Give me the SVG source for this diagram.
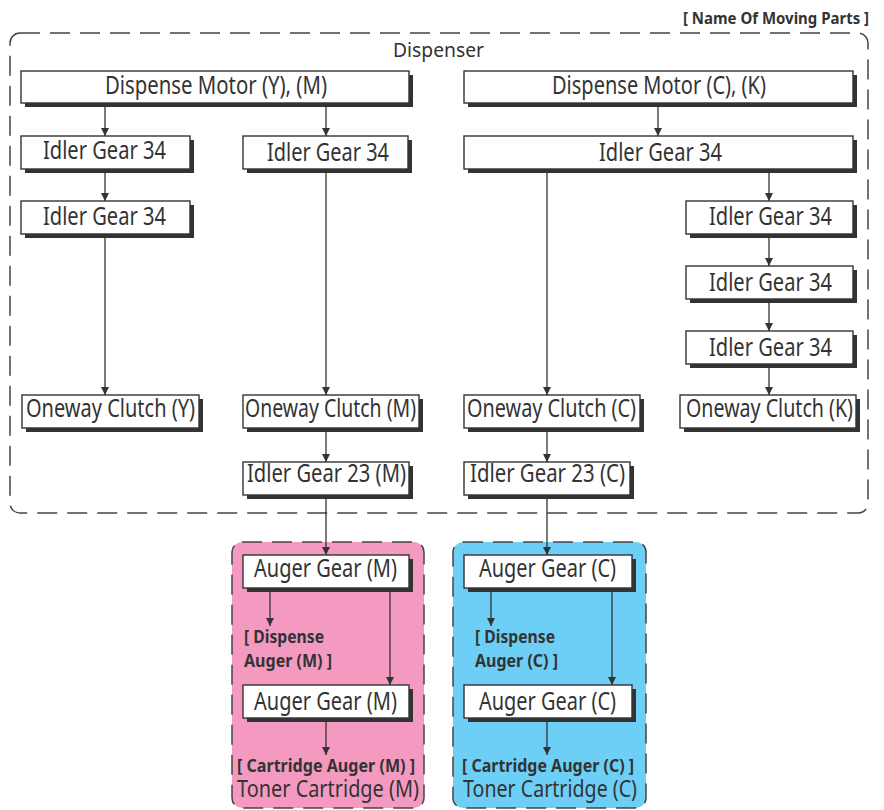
<svg xmlns="http://www.w3.org/2000/svg" width="884" height="810" viewBox="0 0 884 810">
  <defs>
    <marker id="arrow" markerUnits="userSpaceOnUse" markerWidth="8" markerHeight="10" refX="8" refY="4" orient="auto">
      <path d="M0,0 L8,4 L0,8 z" fill="#333"/>
    </marker>
    <style>
      text { font-family: "Noto Sans", "Open Sans", sans-serif; fill: #333; }
      .t { font-size: 25px; }
      .lbl { font-size: 18px; font-weight: bold; }
      .hdr { font-size: 16.5px; font-weight: bold; }
      .grp { font-size: 20.5px; }
      .toner { font-size: 23px; }
      .box { fill: #fff; stroke: #333; stroke-width: 1.4; }
      .shadow { fill: #333; }
      .frame { fill: none; stroke: #444; stroke-width: 1.5; stroke-dasharray: 20 10; }
      .link { fill: none; stroke: #333; stroke-width: 1.3; }
    </style>
  </defs>

  <rect width="884" height="810" fill="#fff"/>

  <!-- header -->
  <text class="hdr" x="683" y="24" textLength="186" lengthAdjust="spacingAndGlyphs">[ Name Of Moving Parts ]</text>

  <!-- containers -->
  <g id="dispenser">
    <rect class="frame" x="10" y="33" width="858" height="480" rx="10"/>
    <text class="grp" x="393" y="57" textLength="91" lengthAdjust="spacingAndGlyphs">Dispenser</text>
  </g>
  <g id="toner-m">
    <rect x="232" y="542" width="192" height="266" rx="10" fill="#F49AC1"/>
    <rect class="frame" x="232" y="542" width="192" height="266" rx="10"/>
    <text class="lbl" x="244" y="643" textLength="80" lengthAdjust="spacingAndGlyphs">[ Dispense</text>
    <text class="lbl" x="244" y="667" textLength="88" lengthAdjust="spacingAndGlyphs">Auger (M) ]</text>
    <text class="lbl" x="237" y="772" textLength="178" lengthAdjust="spacingAndGlyphs">[ Cartridge Auger (M) ]</text>
    <text class="toner" x="237" y="797" textLength="182" lengthAdjust="spacingAndGlyphs">Toner Cartridge (M)</text>
  </g>
  <g id="toner-c">
    <rect x="453" y="542" width="193" height="266" rx="10" fill="#6DCFF6"/>
    <rect class="frame" x="453" y="542" width="193" height="266" rx="10"/>
    <text class="lbl" x="475" y="643" textLength="80" lengthAdjust="spacingAndGlyphs">[ Dispense</text>
    <text class="lbl" x="475" y="667" textLength="83" lengthAdjust="spacingAndGlyphs">Auger (C) ]</text>
    <text class="lbl" x="462" y="772" textLength="172" lengthAdjust="spacingAndGlyphs">[ Cartridge Auger (C) ]</text>
    <text class="toner" x="463" y="797" textLength="174" lengthAdjust="spacingAndGlyphs">Toner Cartridge (C)</text>
  </g>

  <!-- connectors -->
  <g id="connectors">
    <line class="link" x1="105" y1="104" x2="105" y2="136" marker-end="url(#arrow)"/>
    <line class="link" x1="105" y1="170" x2="105" y2="201" marker-end="url(#arrow)"/>
    <line class="link" x1="105" y1="235" x2="105" y2="395" marker-end="url(#arrow)"/>

    <line class="link" x1="326" y1="104" x2="326" y2="136" marker-end="url(#arrow)"/>
    <line class="link" x1="326" y1="170" x2="326" y2="395" marker-end="url(#arrow)"/>
    <line class="link" x1="326" y1="429" x2="326" y2="462" marker-end="url(#arrow)"/>
    <line class="link" x1="326" y1="496" x2="326" y2="555" marker-end="url(#arrow)"/>

    <line class="link" x1="658" y1="104" x2="658" y2="136" marker-end="url(#arrow)"/>
    <line class="link" x1="769" y1="170" x2="769" y2="201" marker-end="url(#arrow)"/>
    <line class="link" x1="769" y1="235" x2="769" y2="266" marker-end="url(#arrow)"/>
    <line class="link" x1="769" y1="300" x2="769" y2="331" marker-end="url(#arrow)"/>
    <line class="link" x1="769" y1="365" x2="769" y2="395" marker-end="url(#arrow)"/>

    <line class="link" x1="547" y1="170" x2="547" y2="395" marker-end="url(#arrow)"/>
    <line class="link" x1="547" y1="429" x2="547" y2="462" marker-end="url(#arrow)"/>
    <line class="link" x1="547" y1="496" x2="547" y2="555" marker-end="url(#arrow)"/>

    <line class="link" x1="270" y1="589" x2="270" y2="626" marker-end="url(#arrow)"/>
    <line class="link" x1="390" y1="589" x2="390" y2="685" marker-end="url(#arrow)"/>
    <line class="link" x1="326" y1="719" x2="326" y2="755" marker-end="url(#arrow)"/>

    <line class="link" x1="491" y1="589" x2="491" y2="626" marker-end="url(#arrow)"/>
    <line class="link" x1="612" y1="589" x2="612" y2="685" marker-end="url(#arrow)"/>
    <line class="link" x1="547" y1="719" x2="547" y2="755" marker-end="url(#arrow)"/>
  </g>

  <!-- nodes -->
  <g id="motor-ym">
    <rect class="shadow" x="25" y="75" width="388" height="32"/>
    <rect class="box" x="21" y="71" width="388" height="32"/>
    <text class="t" x="105" y="94" textLength="222" lengthAdjust="spacingAndGlyphs">Dispense Motor (Y), (M)</text>
  </g>
  <g id="motor-ck">
    <rect class="shadow" x="468" y="75" width="389" height="32"/>
    <rect class="box" x="464" y="71" width="389" height="32"/>
    <text class="t" x="552" y="94" textLength="214" lengthAdjust="spacingAndGlyphs">Dispense Motor (C), (K)</text>
  </g>
  <g id="idler-y1">
    <rect class="shadow" x="25" y="140" width="169" height="33"/>
    <rect class="box" x="21" y="136" width="169" height="33"/>
    <text class="t" x="43" y="159" textLength="123" lengthAdjust="spacingAndGlyphs">Idler Gear 34</text>
  </g>
  <g id="idler-m1">
    <rect class="shadow" x="247" y="140" width="165" height="33"/>
    <rect class="box" x="243" y="136" width="165" height="33"/>
    <text class="t" x="267" y="161" textLength="122" lengthAdjust="spacingAndGlyphs">Idler Gear 34</text>
  </g>
  <g id="idler-ck">
    <rect class="shadow" x="468" y="140" width="389" height="33"/>
    <rect class="box" x="464" y="136" width="389" height="33"/>
    <text class="t" x="599" y="161" textLength="123" lengthAdjust="spacingAndGlyphs">Idler Gear 34</text>
  </g>
  <g id="idler-y2">
    <rect class="shadow" x="25" y="205" width="169" height="33"/>
    <rect class="box" x="21" y="201" width="169" height="33"/>
    <text class="t" x="43" y="225" textLength="123" lengthAdjust="spacingAndGlyphs">Idler Gear 34</text>
  </g>
  <g id="idler-k1">
    <rect class="shadow" x="690" y="205" width="167" height="33"/>
    <rect class="box" x="686" y="201" width="167" height="33"/>
    <text class="t" x="709" y="225" textLength="123" lengthAdjust="spacingAndGlyphs">Idler Gear 34</text>
  </g>
  <g id="idler-k2">
    <rect class="shadow" x="690" y="270" width="167" height="33"/>
    <rect class="box" x="686" y="266" width="167" height="33"/>
    <text class="t" x="709" y="291" textLength="123" lengthAdjust="spacingAndGlyphs">Idler Gear 34</text>
  </g>
  <g id="idler-k3">
    <rect class="shadow" x="690" y="335" width="167" height="33"/>
    <rect class="box" x="686" y="331" width="167" height="33"/>
    <text class="t" x="709" y="356" textLength="123" lengthAdjust="spacingAndGlyphs">Idler Gear 34</text>
  </g>
  <g id="clutch-y">
    <rect class="shadow" x="26" y="399" width="177" height="33"/>
    <rect class="box" x="22" y="395" width="177" height="33"/>
    <text class="t" x="26" y="417" textLength="169" lengthAdjust="spacingAndGlyphs">Oneway Clutch (Y)</text>
  </g>
  <g id="clutch-m">
    <rect class="shadow" x="247" y="399" width="176" height="33"/>
    <rect class="box" x="243" y="395" width="176" height="33"/>
    <text class="t" x="245" y="417" textLength="171" lengthAdjust="spacingAndGlyphs">Oneway Clutch (M)</text>
  </g>
  <g id="clutch-c">
    <rect class="shadow" x="468" y="399" width="176" height="33"/>
    <rect class="box" x="464" y="395" width="176" height="33"/>
    <text class="t" x="467" y="417" textLength="169" lengthAdjust="spacingAndGlyphs">Oneway Clutch (C)</text>
  </g>
  <g id="clutch-k">
    <rect class="shadow" x="684" y="399" width="176" height="33"/>
    <rect class="box" x="680" y="395" width="176" height="33"/>
    <text class="t" x="686" y="417" textLength="167" lengthAdjust="spacingAndGlyphs">Oneway Clutch (K)</text>
  </g>
  <g id="idler23-m">
    <rect class="shadow" x="247" y="466" width="166" height="33"/>
    <rect class="box" x="243" y="462" width="166" height="33"/>
    <text class="t" x="247" y="482" textLength="159" lengthAdjust="spacingAndGlyphs">Idler Gear 23 (M)</text>
  </g>
  <g id="idler23-c">
    <rect class="shadow" x="468" y="466" width="166" height="33"/>
    <rect class="box" x="464" y="462" width="166" height="33"/>
    <text class="t" x="470" y="482" textLength="155" lengthAdjust="spacingAndGlyphs">Idler Gear 23 (C)</text>
  </g>
  <g id="auger-m1">
    <rect class="shadow" x="247" y="559" width="166" height="33"/>
    <rect class="box" x="243" y="555" width="166" height="33"/>
    <text class="t" x="254" y="577" textLength="143" lengthAdjust="spacingAndGlyphs">Auger Gear (M)</text>
  </g>
  <g id="auger-m2">
    <rect class="shadow" x="247" y="689" width="166" height="33"/>
    <rect class="box" x="243" y="685" width="166" height="33"/>
    <text class="t" x="254" y="710" textLength="143" lengthAdjust="spacingAndGlyphs">Auger Gear (M)</text>
  </g>
  <g id="auger-c1">
    <rect class="shadow" x="468" y="559" width="168" height="33"/>
    <rect class="box" x="464" y="555" width="168" height="33"/>
    <text class="t" x="479" y="577" textLength="137" lengthAdjust="spacingAndGlyphs">Auger Gear (C)</text>
  </g>
  <g id="auger-c2">
    <rect class="shadow" x="468" y="689" width="168" height="33"/>
    <rect class="box" x="464" y="685" width="168" height="33"/>
    <text class="t" x="479" y="710" textLength="137" lengthAdjust="spacingAndGlyphs">Auger Gear (C)</text>
  </g>
</svg>
